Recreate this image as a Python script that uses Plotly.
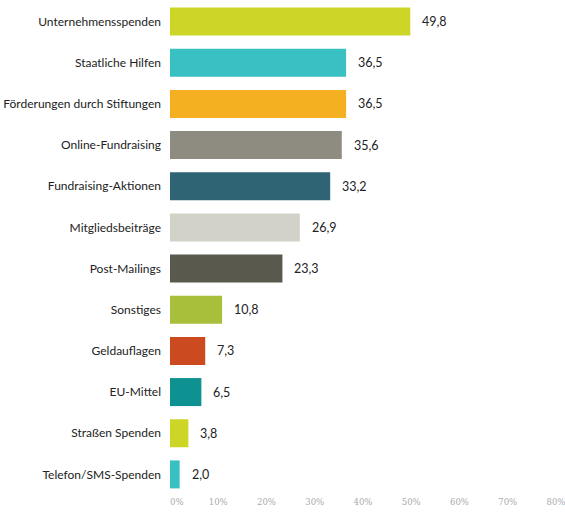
import plotly.graph_objects as go

categories = ["Unternehmensspenden", "Staatliche Hilfen", "Förderungen durch Stiftungen",
              "Online-Fundraising", "Fundraising-Aktionen", "Mitgliedsbeiträge",
              "Post-Mailings", "Sonstiges", "Geldauflagen", "EU-Mittel",
              "Straßen Spenden", "Telefon/SMS-Spenden"]
values = [49.8, 36.5, 36.5, 35.6, 33.2, 26.9, 23.3, 10.8, 7.3, 6.5, 3.8, 2.0]
colors = ["#CDD626", "#38C0C2", "#F5B021", "#8E8C80", "#2F6475", "#D3D2C8",
          "#5A594E", "#A8BF3C", "#CC4A1F", "#0E9191", "#CDD626", "#38C0C2"]
tick_vals = [0, 10, 20, 30, 40, 50, 60, 70, 80]
tick_text = ["0%", "10%", "20%", "30%", "40%", "50%", "60%", "70%", "80%"]

labels = [f"{v:.1f}".replace(".", ",") for v in values]

# nudge first tick label inward like the reference
nbsp = "\u00a0"
shown_ticks = list(tick_text)
shown_ticks[0] = nbsp * 5 + shown_ticks[0]

fig = go.Figure(go.Bar(
    x=values, y=categories, orientation="h",
    marker=dict(color=colors, line=dict(width=0)),
    width=0.68,
    hoverinfo="skip",
))

for c, v, t in zip(categories, values, labels):
    fig.add_annotation(x=v, y=c, text=t, showarrow=False, xanchor="left",
                       xshift=10, font=dict(family="Lato, Open Sans, sans-serif", size=12.5, color="#222"))

fig.update_layout(
    width=565, height=514,
    margin=dict(l=170, r=9, t=1, b=19),
    paper_bgcolor="white", plot_bgcolor="white",
    showlegend=False,
    xaxis=dict(range=[0, 80], tickvals=tick_vals, ticktext=shown_ticks,
               showgrid=False, zeroline=False, showline=False, ticks="",
               automargin=False, ticklabeloverflow="allow",
               tickfont=dict(family="DejaVu Serif, serif", size=8.5, color="#aaaaaa")),
    yaxis=dict(categoryorder="array", categoryarray=categories[::-1],
               range=[-0.5, 11.5], showgrid=False, zeroline=False, showline=False,
               ticks="", ticklabelstandoff=8, automargin=False,
               tickfont=dict(family="Lato, Open Sans, sans-serif", size=12, color="#222")),
)

fig.write_html("out.html", config={"displayModeBar": False})

# remove the browser's default page margin so the figure sits at the top-left corner
with open("out.html", encoding="utf-8") as f:
    html = f.read()
html = html.replace("<body>", '<body style="margin:0;overflow:hidden">', 1)
with open("out.html", "w", encoding="utf-8") as f:
    f.write(html)
